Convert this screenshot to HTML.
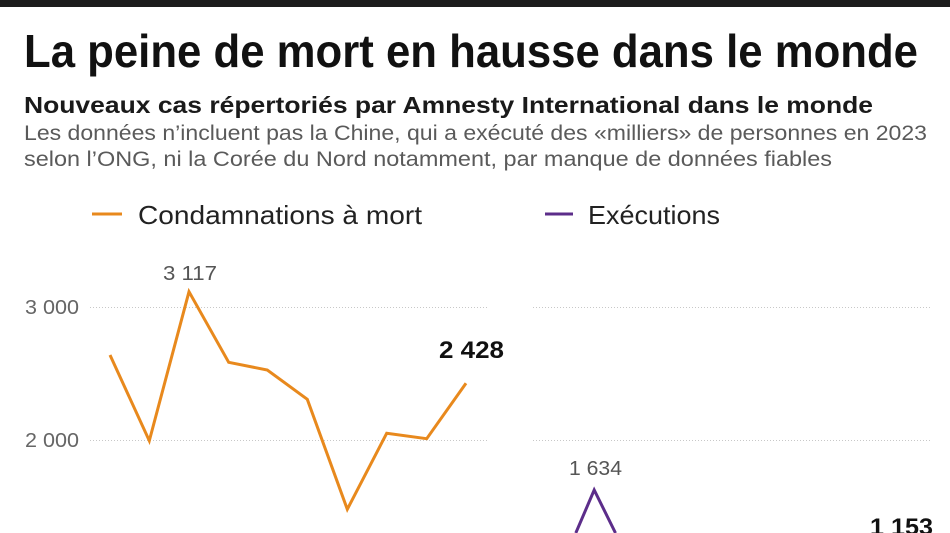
<!DOCTYPE html>
<html>
<head>
<meta charset="utf-8">
<style>
  html,body{margin:0;padding:0;background:#fff;}
  body{width:950px;height:533px;overflow:hidden;}
  svg{display:block;font-family:"Liberation Sans",sans-serif;}
</style>
</head>
<body>
<svg width="950" height="533" viewBox="0 0 950 533" xmlns="http://www.w3.org/2000/svg" overflow="hidden">
  <defs>
    <clipPath id="frame"><rect x="0" y="0" width="950" height="533"/></clipPath>
  </defs>
  <rect x="0" y="0" width="950" height="533" fill="#ffffff"/>
  <rect x="0" y="0" width="950" height="7" fill="#1c1c1c"/>

  <!-- Title -->
  <text x="24" y="67" font-size="46" font-weight="bold" fill="#111" textLength="894" lengthAdjust="spacingAndGlyphs">La peine de mort en hausse dans le monde</text>
  <text x="24" y="113" font-size="23" font-weight="bold" fill="#1a1a1a" textLength="849" lengthAdjust="spacingAndGlyphs">Nouveaux cas répertoriés par Amnesty International dans le monde</text>
  <text x="24" y="140" font-size="21" fill="#5a5a5a" textLength="903" lengthAdjust="spacingAndGlyphs">Les données n’incluent pas la Chine, qui a exécuté des «milliers» de personnes en 2023</text>
  <text x="24" y="166" font-size="21" fill="#5a5a5a" textLength="808" lengthAdjust="spacingAndGlyphs">selon l’ONG, ni la Corée du Nord notamment, par manque de données fiables</text>

  <!-- Legend -->
  <line x1="92" y1="214" x2="122" y2="214" stroke="#e8891d" stroke-width="3"/>
  <text x="138" y="224" font-size="26" fill="#222" textLength="284" lengthAdjust="spacingAndGlyphs">Condamnations à mort</text>
  <line x1="545" y1="214" x2="573" y2="214" stroke="#5c2d8a" stroke-width="3"/>
  <text x="588" y="224" font-size="26" fill="#222" textLength="132" lengthAdjust="spacingAndGlyphs">Exécutions</text>

  <!-- Gridlines -->
  <g stroke="#c8c8c8" stroke-width="1" stroke-dasharray="1,2">
    <line x1="90" y1="307.5" x2="487" y2="307.5"/>
    <line x1="90" y1="440.5" x2="487" y2="440.5"/>
    <line x1="533" y1="307.5" x2="931" y2="307.5"/>
    <line x1="533" y1="440.5" x2="931" y2="440.5"/>
  </g>

  <!-- Y tick labels -->
  <text x="25" y="314" font-size="20" fill="#666" textLength="54" lengthAdjust="spacingAndGlyphs">3 000</text>
  <text x="25" y="447" font-size="20" fill="#666" textLength="54" lengthAdjust="spacingAndGlyphs">2 000</text>

  <!-- Orange series -->
  <polyline fill="none" stroke="#e8891d" stroke-width="3" stroke-linejoin="miter" stroke-linecap="butt"
    points="110,355 149.3,440.7 189,291.7 228.7,362.3 267.3,370 307.3,399.3 347.3,509.3 386.7,433.3 426.7,438.7 466,383.3"/>

  <text x="163" y="280" font-size="20" fill="#555" textLength="54" lengthAdjust="spacingAndGlyphs">3 117</text>
  <text x="439" y="358" font-size="24" font-weight="bold" fill="#111" textLength="65" lengthAdjust="spacingAndGlyphs">2 428</text>

  <!-- Purple series (visible part) -->
  <polyline fill="none" stroke="#5c2d8a" stroke-width="3" stroke-linejoin="miter" stroke-linecap="butt"
    points="575.8,533 594.2,490 615.5,533"/>

  <text x="569" y="475" font-size="20" fill="#555" textLength="53" lengthAdjust="spacingAndGlyphs">1 634</text>
  <g clip-path="url(#frame)">
    <text x="870" y="535" font-size="24" font-weight="bold" fill="#111" textLength="63" lengthAdjust="spacingAndGlyphs">1 153</text>
  </g>
</svg>
</body>
</html>
